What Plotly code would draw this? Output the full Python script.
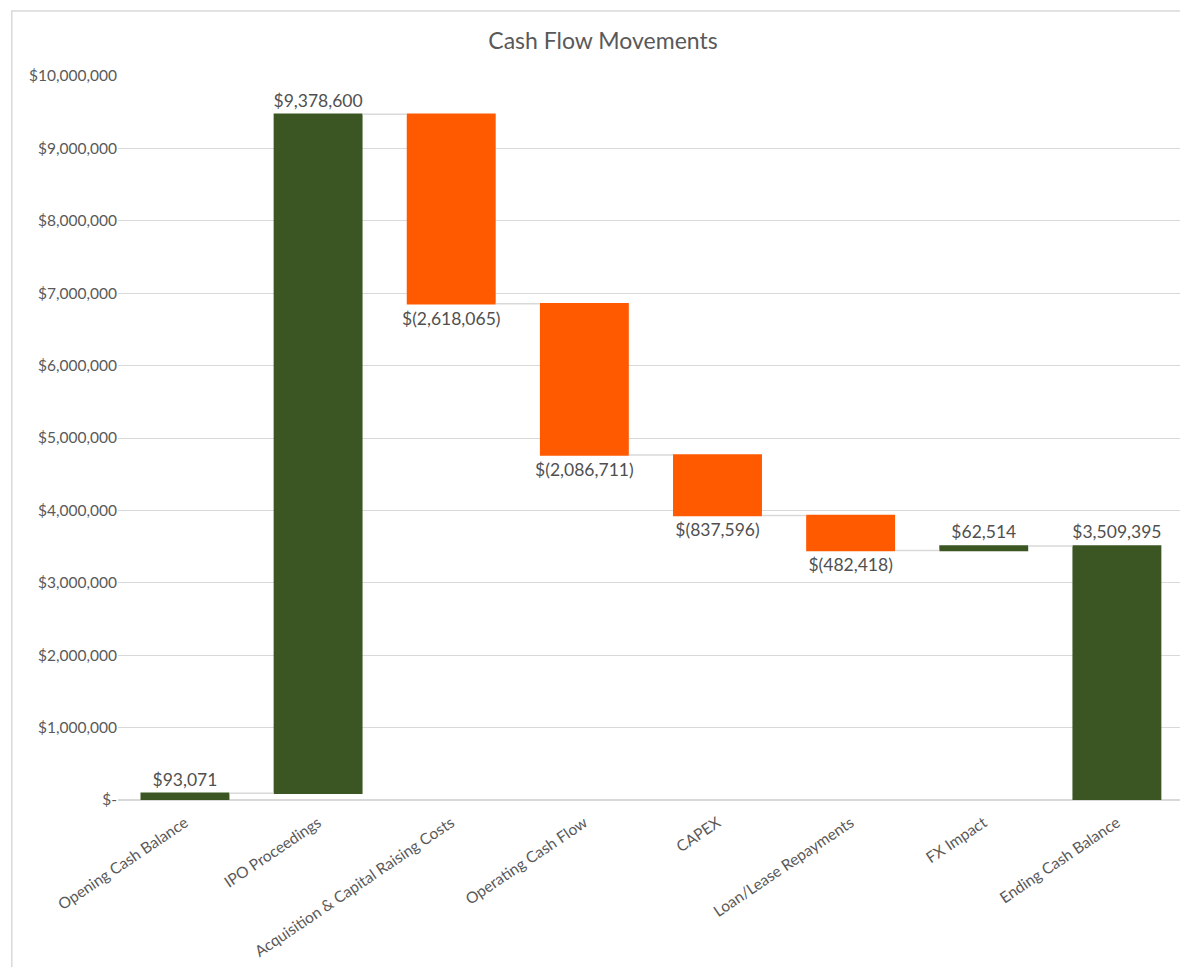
import plotly.graph_objects as go

categories = ["Opening Cash Balance", "IPO Proceedings", "Acquisition & Capital Raising Costs",
              "Operating Cash Flow", "CAPEX", "Loan/Lease Repayments", "FX Impact", "Ending Cash Balance"]
values = [93071, 9378600, -2618065, -2086711, -837596, -482418, 62514, 3509395]
measures = ["absolute", "relative", "relative", "relative", "relative", "relative", "relative", "total"]
tick_vals = [0, 1000000, 2000000, 3000000, 4000000, 5000000, 6000000, 7000000, 8000000, 9000000, 10000000]
tick_text = ["$-", "$1,000,000", "$2,000,000", "$3,000,000", "$4,000,000", "$5,000,000",
             "$6,000,000", "$7,000,000", "$8,000,000", "$9,000,000", "$10,000,000"]


def fmt(v):
    return f"${v:,}" if v >= 0 else f"$({-v:,})"


labels = [fmt(v) for v in values]

GREEN = "#3B5623"
ORANGE = "#FF5A00"
FONT = "Lato, 'Open Sans', sans-serif"

fig = go.Figure(go.Waterfall(
    x=categories,
    y=values,
    measure=measures,
    text=labels,
    textposition="outside",
    constraintext="none",
    textfont=dict(size=17.5, color="#505050", family=FONT),
    increasing=dict(marker=dict(color=GREEN)),
    decreasing=dict(marker=dict(color=ORANGE)),
    totals=dict(marker=dict(color=GREEN)),
    connector=dict(line=dict(color="#D9D9D9", width=1.5)),
    width=0.668,
    cliponaxis=False,
))

fig.update_layout(
    width=1180, height=967,
    margin=dict(l=118, r=0, t=76, b=167),
    paper_bgcolor="white", plot_bgcolor="white",
    title=dict(text="Cash Flow Movements", x=0.511, xanchor="center", y=0.958, yanchor="middle",
               font=dict(size=23, color="#595959", family=FONT)),
    showlegend=False,
    font=dict(family=FONT, color="#595959"),
    xaxis=dict(tickangle=-34, tickfont=dict(size=15.5, color="#595959"), showgrid=False,
               showline=False, ticks="", range=[-0.503, 7.474], ticklabelstandoff=10),
    yaxis=dict(range=[0, 10000000], tickvals=tick_vals, ticktext=tick_text,
               tickfont=dict(size=15.5, color="#595959"), gridcolor="#D9D9D9", gridwidth=1,
               zeroline=True, zerolinecolor="#D9D9D9", zerolinewidth=1.5, showline=False, ticks="",
               ticklen=0),
    shapes=[dict(type="rect", xref="paper", yref="paper", x0=-0.1, x1=1.02, y0=-0.3, y1=1.0898,
                 line=dict(color="#D9D9D9", width=1.5), fillcolor="rgba(0,0,0,0)", layer="below")],
)

fig.write_html("out.html")
